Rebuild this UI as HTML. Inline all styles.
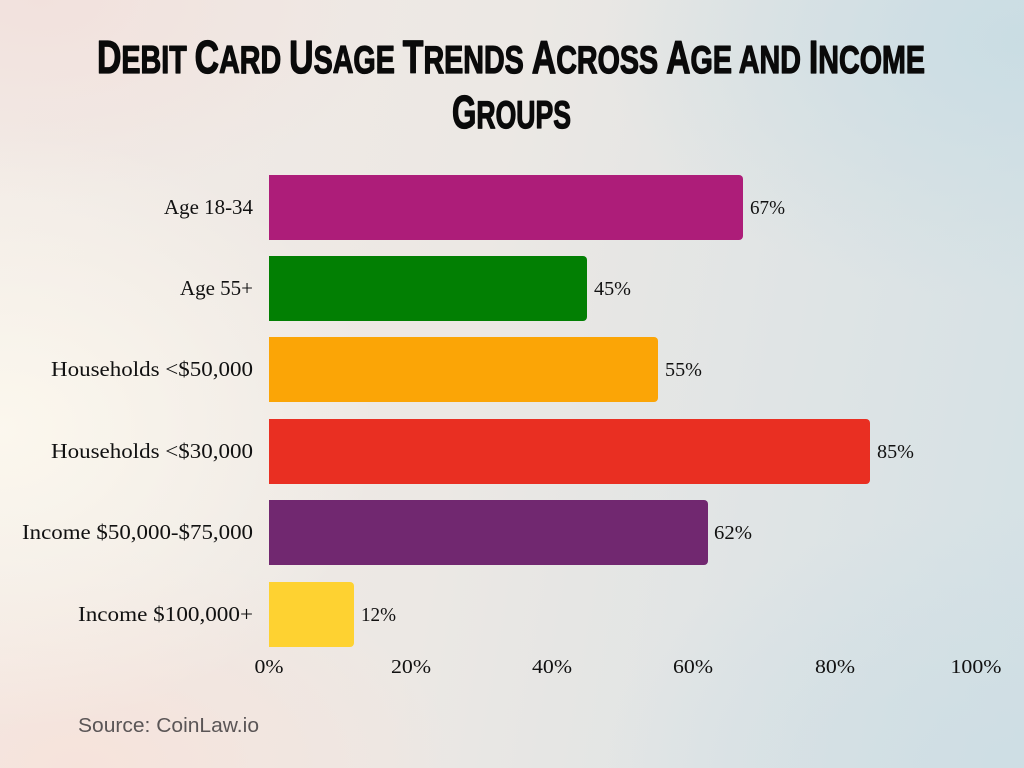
<!DOCTYPE html>
<html>
<head>
<meta charset="utf-8">
<style>
  html,body{margin:0;padding:0;}
  body{width:1024px;height:768px;overflow:hidden;
    background:
      radial-gradient(ellipse 380px 300px at 0px 430px, rgba(252,248,238,0.95), rgba(252,248,238,0) 100%),
      radial-gradient(ellipse 420px 260px at 1024px 40px, rgba(200,220,227,0.9), rgba(200,220,227,0) 100%),
      radial-gradient(ellipse 420px 260px at 1024px 768px, rgba(205,221,228,0.9), rgba(205,221,228,0) 100%),
      radial-gradient(ellipse 380px 220px at 80px 768px, rgba(247,226,218,0.9), rgba(247,226,218,0) 100%),
      radial-gradient(ellipse 360px 200px at 40px 0px, rgba(242,224,220,0.9), rgba(242,224,220,0) 100%),
      linear-gradient(100deg, #f2ebe6 0%, #ece8e4 45%, #dfe4e5 75%, #d4e1e5 100%);
  }
  svg{position:absolute;left:0;top:0;}
  .t{font-family:"Liberation Sans",sans-serif;font-weight:bold;fill:#0a0a0a;stroke:#0a0a0a;stroke-width:1.3px;stroke-linejoin:round;}
  .lab{font-family:"Liberation Serif",serif;fill:#111;font-size:21px;}
  .val{font-family:"Liberation Serif",serif;fill:#111;font-size:20px;}
  .src{font-family:"Liberation Sans",sans-serif;fill:#5a5556;font-size:20px;}
</style>
</head>
<body>
<svg width="1024" height="768" viewBox="0 0 1024 768" xmlns="http://www.w3.org/2000/svg">
  <!-- Title -->
  <text class="t" x="97" y="73" textLength="828" lengthAdjust="spacingAndGlyphs"><tspan font-size="46">D</tspan><tspan font-size="39">EBIT </tspan><tspan font-size="46">C</tspan><tspan font-size="39">ARD </tspan><tspan font-size="46">U</tspan><tspan font-size="39">SAGE </tspan><tspan font-size="46">T</tspan><tspan font-size="39">RENDS </tspan><tspan font-size="46">A</tspan><tspan font-size="39">CROSS </tspan><tspan font-size="46">A</tspan><tspan font-size="39">GE AND </tspan><tspan font-size="46">I</tspan><tspan font-size="39">NCOME</tspan></text>
  <text class="t" x="452" y="128" textLength="119" lengthAdjust="spacingAndGlyphs"><tspan font-size="46">G</tspan><tspan font-size="39">ROUPS</tspan></text>

  <!-- Bars -->
  <path d="M269 175 H739 A4 4 0 0 1 743 179 V236 A4 4 0 0 1 739 240 H269 Z" fill="#ad1d79"/>
  <path d="M269 256 H583 A4 4 0 0 1 587 260 V317 A4 4 0 0 1 583 321 H269 Z" fill="#027f03"/>
  <path d="M269 337 H654 A4 4 0 0 1 658 341 V398 A4 4 0 0 1 654 402 H269 Z" fill="#fba506"/>
  <path d="M269 419 H866 A4 4 0 0 1 870 423 V480 A4 4 0 0 1 866 484 H269 Z" fill="#e92f22"/>
  <path d="M269 500 H704 A4 4 0 0 1 708 504 V561 A4 4 0 0 1 704 565 H269 Z" fill="#712870"/>
  <path d="M269 582 H350 A4 4 0 0 1 354 586 V643 A4 4 0 0 1 350 647 H269 Z" fill="#fed231"/>

  <!-- Category labels -->
  <text class="lab" x="253" y="214" text-anchor="end" textLength="89" lengthAdjust="spacingAndGlyphs">Age 18-34</text>
  <text class="lab" x="253" y="295" text-anchor="end" textLength="73" lengthAdjust="spacingAndGlyphs">Age 55+</text>
  <text class="lab" x="253" y="376" text-anchor="end" textLength="202" lengthAdjust="spacingAndGlyphs">Households &lt;$50,000</text>
  <text class="lab" x="253" y="458" text-anchor="end" textLength="202" lengthAdjust="spacingAndGlyphs">Households &lt;$30,000</text>
  <text class="lab" x="253" y="539" text-anchor="end" textLength="231" lengthAdjust="spacingAndGlyphs">Income $50,000-$75,000</text>
  <text class="lab" x="253" y="621" text-anchor="end" textLength="175" lengthAdjust="spacingAndGlyphs">Income $100,000+</text>

  <!-- Value labels -->
  <text class="val" x="750" y="214" textLength="35" lengthAdjust="spacingAndGlyphs">67%</text>
  <text class="val" x="594" y="295" textLength="37" lengthAdjust="spacingAndGlyphs">45%</text>
  <text class="val" x="665" y="376" textLength="37" lengthAdjust="spacingAndGlyphs">55%</text>
  <text class="val" x="877" y="458" textLength="37" lengthAdjust="spacingAndGlyphs">85%</text>
  <text class="val" x="714" y="539" textLength="38" lengthAdjust="spacingAndGlyphs">62%</text>
  <text class="val" x="361" y="621" textLength="35" lengthAdjust="spacingAndGlyphs">12%</text>

  <!-- Axis ticks -->
  <text class="val" x="269" y="673" text-anchor="middle" textLength="29" lengthAdjust="spacingAndGlyphs">0%</text>
  <text class="val" x="411" y="673" text-anchor="middle" textLength="40" lengthAdjust="spacingAndGlyphs">20%</text>
  <text class="val" x="552" y="673" text-anchor="middle" textLength="40" lengthAdjust="spacingAndGlyphs">40%</text>
  <text class="val" x="693" y="673" text-anchor="middle" textLength="40" lengthAdjust="spacingAndGlyphs">60%</text>
  <text class="val" x="835" y="673" text-anchor="middle" textLength="40" lengthAdjust="spacingAndGlyphs">80%</text>
  <text class="val" x="976" y="673" text-anchor="middle" textLength="51" lengthAdjust="spacingAndGlyphs">100%</text>

  <!-- Source -->
  <text class="src" x="78" y="732" textLength="181" lengthAdjust="spacingAndGlyphs">Source: CoinLaw.io</text>
</svg>
</body>
</html>
